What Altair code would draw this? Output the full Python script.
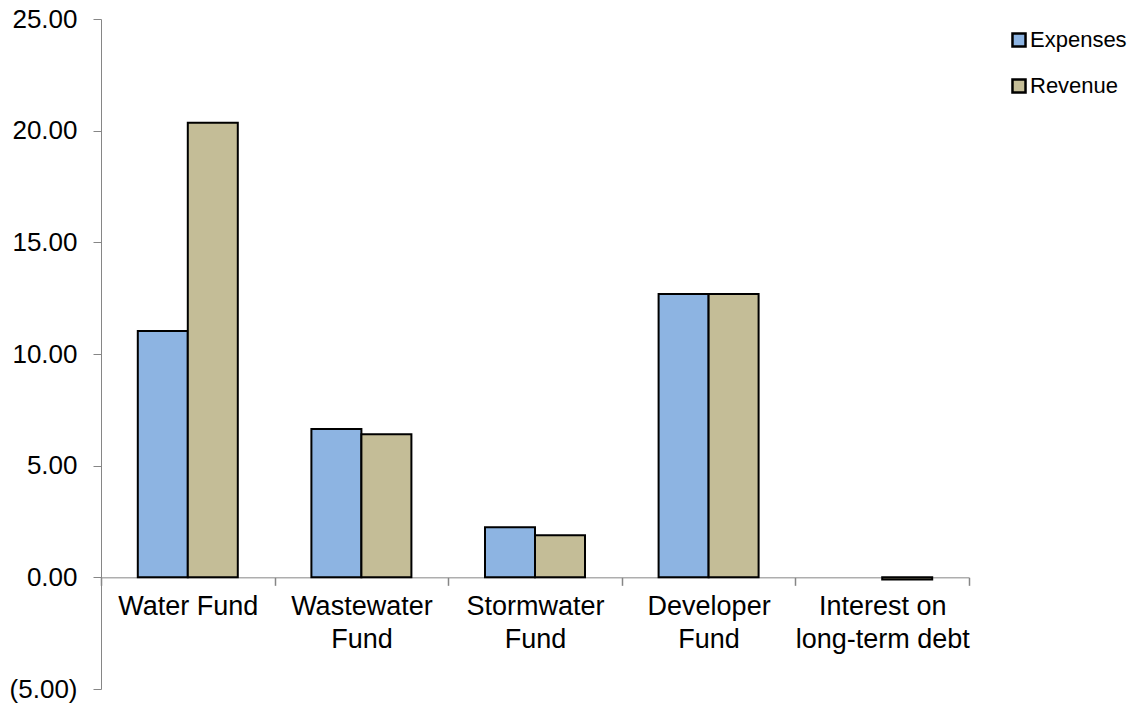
import altair as alt
import pandas as pd

# Fund categories (use "\n" for two-line axis labels)
categories = [
    "Water Fund",
    "Wastewater\nFund",
    "Stormwater\nFund",
    "Developer\nFund",
    "Interest on\nlong-term debt",
]
series = ["Expenses", "Revenue"]
expenses = [11.03, 6.64, 2.24, 12.69, 0.0]
revenue = [20.36, 6.41, 1.88, 12.69, -0.10]

colors = ["#8DB4E2", "#C4BD97"]

rows = []
for cat, e, r in zip(categories, expenses, revenue):
    rows.append({"category": cat, "series": "Expenses", "value": e})
    rows.append({"category": cat, "series": "Revenue", "value": r})
df = pd.DataFrame(rows)

W, H = 868, 670
Y_MIN, Y_MAX = -5, 25
FONT = "Liberation Sans"
AXIS_GREY = "#868686"

# put the category axis on the zero line
zero_offset = -H * (0 - Y_MIN) / (Y_MAX - Y_MIN)

bars = alt.Chart(df).mark_bar(strokeWidth=2).encode(
    x=alt.X(
        "category:N",
        sort=categories,
        scale=alt.Scale(paddingInner=0, paddingOuter=0),
        axis=alt.Axis(
            title=None,
            labelAngle=0,
            tickBand="extent",
            offset=zero_offset,
            domainColor=AXIS_GREY,
            tickColor=AXIS_GREY,
            tickWidth=1.5,
            tickSize=8,
            labelPadding=8,
            labelFont=FONT,
            labelFontSize=27,
            labelColor="black",
            labelLineHeight=33,
            labelBaseline="top",
            labelExpr="split(datum.label, '\\n')",
        ),
    ),
    xOffset=alt.XOffset(
        "series:N",
        sort=series,
        scale=alt.Scale(paddingInner=0, paddingOuter=0.736),
    ),
    y=alt.Y(
        "value:Q",
        scale=alt.Scale(domain=[Y_MIN, Y_MAX], nice=False, zero=False),
        axis=alt.Axis(
            title=None,
            values=[-5, 0, 5, 10, 15, 20, 25],
            grid=False,
            domainColor=AXIS_GREY,
            tickColor=AXIS_GREY,
            tickSize=8,
            labelPadding=16,
            labelFont=FONT,
            labelFontSize=26,
            labelColor="black",
            labelExpr="datum.value < 0 ? '(' + format(-datum.value, '.2f') + ')' : format(datum.value, '.2f')",
        ),
    ),
    color=alt.Color(
        "series:N",
        sort=series,
        scale=alt.Scale(domain=series, range=colors),
        legend=alt.Legend(
            title=None,
            orient="none",
            legendX=W + 39,
            legendY=10,
            symbolType="square",
            symbolSize=170,
            symbolStrokeColor="black",
            symbolStrokeWidth=2.5,
            labelFont=FONT,
            labelFontSize=22,
            labelColor="black",
            labelOffset=0,
            rowPadding=22,
        ),
    ),
    # a zero-height bar draws no outline
    stroke=alt.condition("datum.value == 0", alt.value(None), alt.value("black")),
)

chart = bars.properties(
    width=W,
    height=H,
    autosize=alt.AutoSizeParams(type="none"),
    padding={"left": 101, "top": 19, "right": 169, "bottom": 18},
    background="white",
).configure_view(stroke=None)

chart.save("out.html", embed_options={"renderer": "svg", "actions": False})
